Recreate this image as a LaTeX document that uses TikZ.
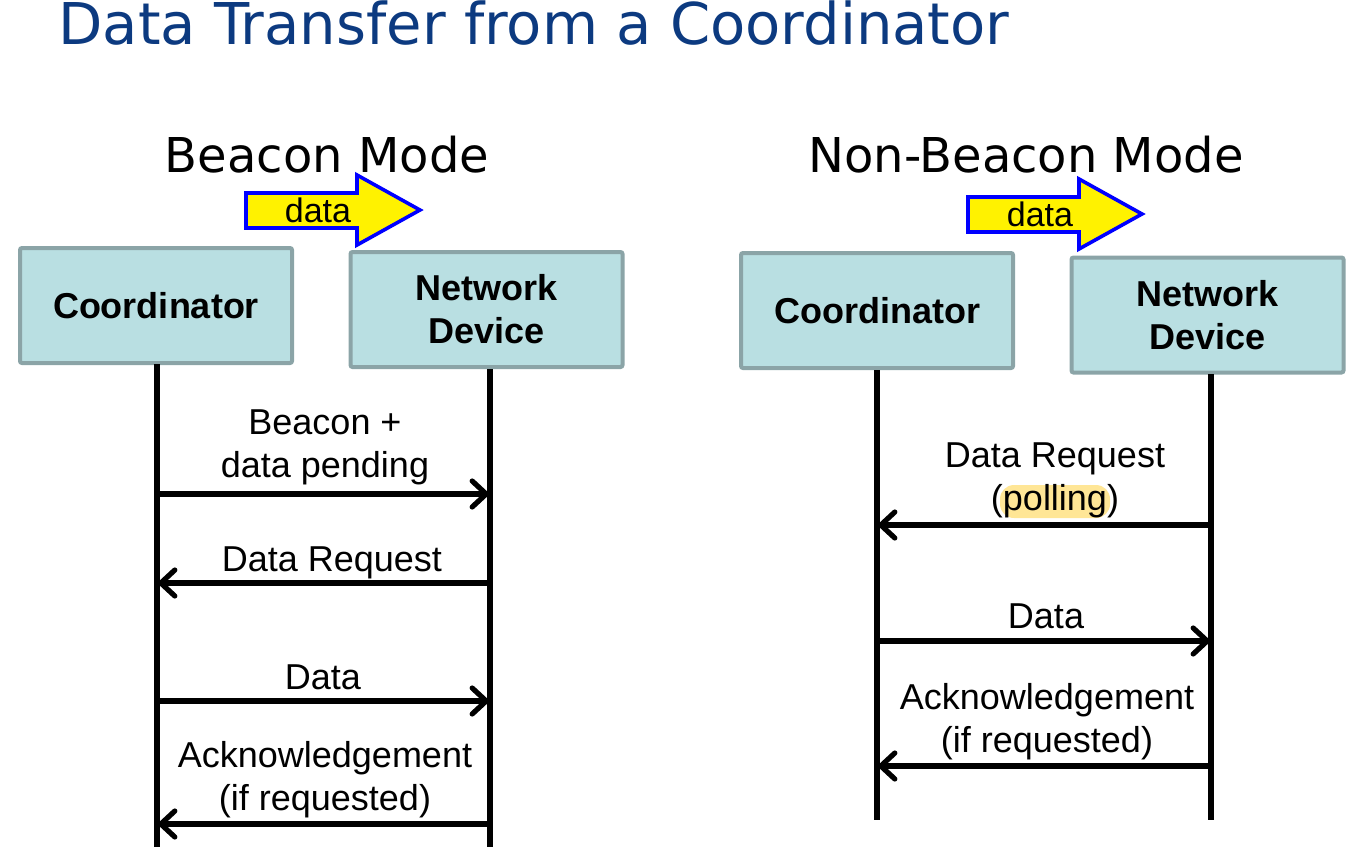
\documentclass[tikz,border=0pt]{standalone}
\usepackage{fontspec}
\setmainfont{Liberation Sans}
\newfontfamily\headfont{DejaVu Sans}
\usetikzlibrary{arrows.meta}
\definecolor{titleblue}{RGB}{12,58,128}
\definecolor{boxfill}{RGB}{185,223,226}
\definecolor{boxline}{RGB}{139,164,167}
\definecolor{hilite}{RGB}{255,230,150}
\tikzset{
	entity/.style={draw=boxline, fill=boxfill, line width=2pt, rounded corners=1pt, minimum width=136pt, minimum height=57.5pt, align=center, font=\bfseries\fontsize{18}{21.5}\selectfont},
	mode/.style={anchor=base, inner sep=0pt, font=\headfont\fontsize{24}{26}\selectfont},
	blockarrow/.style={draw=blue, fill=yellow, line width=1.8pt},
	datatext/.style={inner sep=0pt, font=\fontsize{17}{19}\selectfont},
	lifeline/.style={line width=3pt},
	msg/.style={line width=2.6pt, -{Straight Barb[length=7pt, width=13pt, line cap=round]}},
	lbl/.style={align=center, inner sep=0pt, font=\fontsize{18}{21.5}\selectfont}
}
\begin{document}
\begin{tikzpicture}[x=0.5pt, y=-0.5pt]
		\useasboundingbox (0,0) rectangle (1360,847);
		\node[anchor=base west, inner sep=0pt, text=titleblue, font=\headfont\fontsize{28.8}{30}\selectfont] (title) at (58,44) {Data Transfer from a Coordinator};
		\node[mode] (bmode) at (327,172) {Beacon Mode};
		\node[mode] (nmode) at (1026,172) {Non-Beacon Mode};
		% data arrows
		\foreach \dx/\dy/\nm in {0/0/bdata, 722/4/ndata} {
			\draw[blockarrow] (246+\dx,193+\dy) -- (357+\dx,193+\dy) -- (357+\dx,175+\dy) -- (420+\dx,210+\dy) -- (357+\dx,245+\dy) -- (357+\dx,228+\dy) -- (246+\dx,228+\dy) -- cycle;
			\node[datatext] (\nm) at (318+\dx,210+\dy) {data};
		}
		% entities
		\node[entity] (bcoord) at (156,305.5) {Coordinator};
		\node[entity] (bdev) at (486.5,309.5) {Network\\Device};
		\node[entity] (ncoord) at (877,310.5) {Coordinator};
		\node[entity] (ndev) at (1207.5,315) {Network\\Device};
		% lifelines
		\coordinate (bc1) at (157,364); \coordinate (bc2) at (157,847);
		\coordinate (bd1) at (490,369); \coordinate (bd2) at (490,847);
		\coordinate (nc1) at (877,370); \coordinate (nc2) at (877,820);
		\coordinate (nd1) at (1211,374); \coordinate (nd2) at (1211,820);
		\draw[lifeline] (bc1) -- (bc2);
		\draw[lifeline] (bd1) -- (bd2);
		\draw[lifeline] (nc1) -- (nc2);
		\draw[lifeline] (nd1) -- (nd2);
		% beacon mode messages
		\draw[msg] (bc1 |- 0,494) -- (bd1 |- 0,494);
		\draw[msg] (bd1 |- 0,583) -- (bc1 |- 0,583);
		\draw[msg] (bc1 |- 0,701) -- (bd1 |- 0,701);
		\draw[msg] (bd1 |- 0,824) -- (bc1 |- 0,824);
		\node[lbl] (bbeacon) at (325,447) {Beacon +\\data pending};
		\node[lbl] (breq) at (332,563) {Data Request};
		\node[lbl] (bdat) at (323,677) {Data};
		\node[lbl] (back) at (325,780) {Acknowledgement\\(if requested)};
		% non-beacon mode messages
		\draw[msg] (nd1 |- 0,525) -- (nc1 |- 0,525);
		\draw[msg] (nc1 |- 0,641) -- (nd1 |- 0,641);
		\draw[msg] (nd1 |- 0,766) -- (nc1 |- 0,766);
		\node[fill=hilite, rounded corners=7pt, minimum width=55pt, minimum height=16.5pt, inner sep=0pt] (glow) at (1055,501.5) {};
		\node[lbl] (nreq) at (1055,480) {Data Request\\(polling)};
		\node[lbl] (ndat) at (1046,616) {Data};
		\node[lbl] (nack) at (1047,722) {Acknowledgement\\(if requested)};
\end{tikzpicture}
\end{document}
